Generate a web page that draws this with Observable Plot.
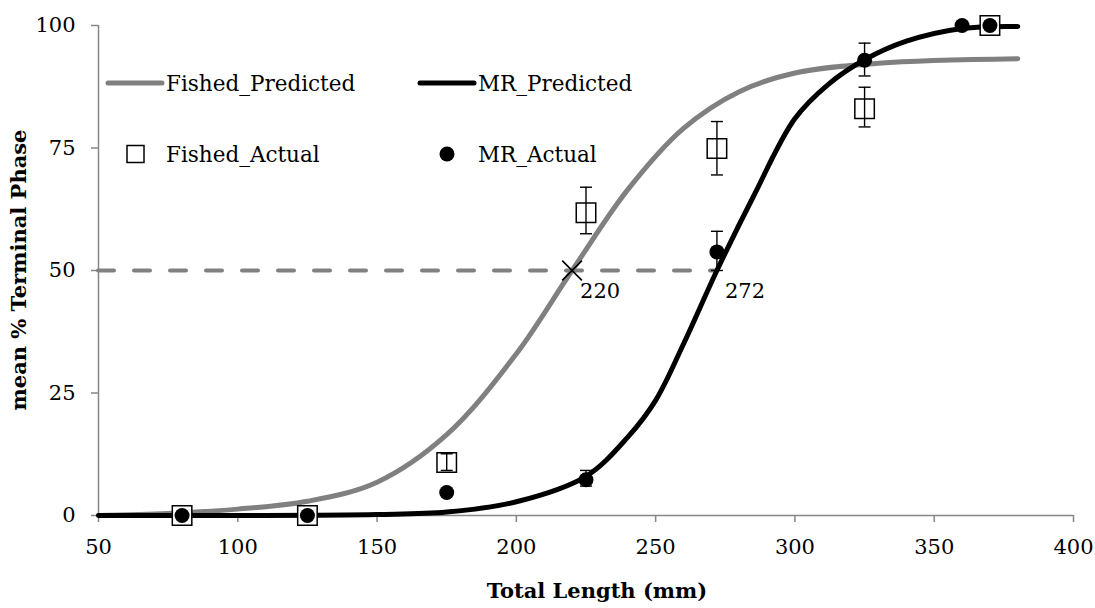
<!DOCTYPE html>
<html><head><meta charset="utf-8">
<script src="https://cdn.jsdelivr.net/npm/d3@7"></script>
<script src="https://cdn.jsdelivr.net/npm/@observablehq/plot@0.6"></script>
<style>
body{margin:0;background:#fff;}
#wrap{position:relative;width:1095px;height:608px;font-family:"DejaVu Serif",serif;overflow:hidden;}
#wrap > svg{position:absolute;left:0;top:0;}
.ttl{position:absolute;font-weight:bold;font-size:21px;color:#000;white-space:nowrap;line-height:1;}
svg [aria-label="x-axis"] line, svg [aria-label="y-axis"] line,
svg [aria-label$="axis tick"] path{stroke:#868686;stroke-width:1.5px;}
</style></head><body>
<div id="wrap"></div>
<script>
// ---------- data ----------
const xTicks = [50, 100, 150, 200, 250, 300, 350, 400];
const yTicks = [0, 25, 50, 75, 100];

const fishedPredX = [50, 75, 100, 125, 150, 175, 200, 220, 240, 260, 280, 300, 330, 380];
const fishedPredY = [0, 0.4, 1.3, 2.9, 6.8, 16.5, 33, 50, 66.5, 79, 86.5, 90.3, 92.3, 93.2];

const mrPredX = [50, 100, 150, 175, 200, 225, 240, 250, 260, 272, 285, 300, 312, 325, 340, 360, 380];
const mrPredY = [0, 0, 0.2, 0.7, 2.8, 8.0, 16, 23.5, 35, 50, 65, 81, 88, 93, 96.8, 99.4, 99.8];

const fishedActX  = [80, 125, 175, 225, 272, 325, 370];
const fishedActY  = [0, 0, 10.8, 61.8, 74.9, 83, 100];
const fishedActLo = [null, null, 9.2, 57.5, 69.5, 79.3, null];
const fishedActHi = [null, null, 12.6, 67, 80.4, 87.4, null];

const mrActX  = [80, 125, 175, 225, 272, 325, 360, 370];
const mrActY  = [0, 0, 4.7, 7.3, 53.8, 92.9, 100, 100];
const mrActLo = [null, null, null, 6, 50, 89.7, null, null];
const mrActHi = [null, null, null, 9.2, 58, 96.4, null, null];

const halfLevel = 50;
const l50Names = ["Fished", "MR"];
const l50X = [220, 272];
const l50Labels = ["220", "272"];

const seriesNames = ["Fished_Predicted", "MR_Predicted", "Fished_Actual", "MR_Actual"];
const xTitle = "Total Length (mm)";
const yTitle = "mean % Terminal Phase";

// ---------- tables ----------
const zip = (xs, ys) => xs.map((x, i) => ({x, y: ys[i]}));
const fishedPred = zip(fishedPredX, fishedPredY);
const mrPred = zip(mrPredX, mrPredY);
const fishedAct = fishedActX.map((x, i) => ({x, y: fishedActY[i], lo: fishedActLo[i], hi: fishedActHi[i]}));
const mrAct = mrActX.map((x, i) => ({x, y: mrActY[i], lo: mrActLo[i], hi: mrActHi[i]}));
const fishedErr = fishedAct.filter(d => d.lo != null);
const mrErr = mrAct.filter(d => d.lo != null);
const l50 = l50X.map((x, i) => ({name: l50Names[i], x, label: l50Labels[i], y: halfLevel}));
const dash = [{y: halfLevel, x1: xTicks[0], x2: d3.max(l50X)}];

const GRAY = "#808080";
const cap = {draw(ctx, size) { const w = Math.sqrt(size / Math.PI); ctx.moveTo(-w, 0); ctx.lineTo(w, 0); }};

const errMarks = (data) => [
  Plot.ruleX(data, {x: "x", y1: "lo", y2: "hi", stroke: "black", strokeWidth: 1.4}),
  Plot.dot(data, {x: "x", y: "lo", symbol: cap, r: 6, fill: "none", stroke: "black", strokeWidth: 1.4}),
  Plot.dot(data, {x: "x", y: "hi", symbol: cap, r: 6, fill: "none", stroke: "black", strokeWidth: 1.4})
];

const chart = Plot.plot({
  width: 1095, height: 608,
  marginLeft: 98, marginRight: 22, marginTop: 25, marginBottom: 93,
  style: {fontFamily: '"DejaVu Serif", serif', fontSize: "21px", background: "white", color: "black"},
  x: {domain: [50, 400], ticks: xTicks, tickSize: 7, tickPadding: 17, label: null, tickFormat: d => String(d)},
  y: {domain: [0, 100], ticks: yTicks, tickSize: 7, tickPadding: 16, label: null, tickFormat: d => String(d)},
  marks: [
    Plot.ruleY([0], {stroke: "#868686", strokeWidth: 1.5}),
    Plot.ruleX([50], {stroke: "#868686", strokeWidth: 1.5}),
    Plot.ruleY(dash, {y: "y", x1: "x1", x2: "x2", stroke: GRAY, strokeWidth: 4, strokeDasharray: "16,20", strokeLinecap: "round"}),
    Plot.line(fishedPred, {x: "x", y: "y", stroke: GRAY, strokeWidth: 5, curve: "catmull-rom", strokeLinecap: "round"}),
    Plot.line(mrPred, {x: "x", y: "y", stroke: "black", strokeWidth: 5, curve: "catmull-rom", strokeLinecap: "round"}),
    Plot.dot(fishedAct, {x: "x", y: "y", symbol: "square", r: 11, fill: "white", stroke: "black", strokeWidth: 1.5, ariaLabel: "shadowed"}),
    ...errMarks(fishedErr),
    Plot.dot(mrAct, {x: "x", y: "y", r: 7.5, fill: "black", stroke: "none", ariaLabel: "shadowed"}),
    ...errMarks(mrErr),
    Plot.dot(l50.filter(d => d.name === "Fished"), {x: "x", y: "y", symbol: "times", r: 9, stroke: "black", strokeWidth: 1.6, ariaLabel: "shadowed"}),
    Plot.text(l50, {x: "x", y: "y", text: "label", dx: 8, dy: 21, textAnchor: "start", fill: "black", fontSize: 21})
  ]
});

// drop shadow filter like the original markers
const svgSel = d3.select(chart);
const defs = svgSel.insert("defs", ":first-child");
const f = defs.append("filter").attr("id", "sh").attr("x", "-50%").attr("y", "-50%").attr("width", "200%").attr("height", "200%");
f.append("feDropShadow").attr("dx", 1.5).attr("dy", 2.5).attr("stdDeviation", 1.6).attr("flood-color", "#000").attr("flood-opacity", 0.45);
svgSel.selectAll('g[aria-label="shadowed"]').attr("filter", "url(#sh)");

const wrap = document.getElementById("wrap");
wrap.appendChild(chart);

// legend (inside plot area, top-left)
const leg = d3.select(wrap).append("svg").attr("width", 1095).attr("height", 608)
  .style("position", "absolute").style("left", 0).style("top", 0).style("pointer-events", "none")
  .style("font-family", '"DejaVu Serif", serif').style("font-size", "21.5px");
const legendItems = [
  {name: seriesNames[0], kind: "line", color: GRAY, x: 108, y: 83},
  {name: seriesNames[1], kind: "line", color: "black", x: 420, y: 83},
  {name: seriesNames[2], kind: "square", color: "black", x: 108, y: 154},
  {name: seriesNames[3], kind: "dot", color: "black", x: 420, y: 154}
];
for (const it of legendItems) {
  const g = leg.append("g").attr("transform", `translate(${it.x},${it.y})`);
  if (it.kind === "line") {
    g.append("line").attr("x1", 0).attr("x2", 54).attr("y1", 0).attr("y2", 0)
      .attr("stroke", it.color).attr("stroke-width", 5).attr("stroke-linecap", "round");
  } else if (it.kind === "square") {
    g.append("rect").attr("x", 19).attr("y", -8.5).attr("width", 17).attr("height", 17)
      .attr("fill", "white").attr("stroke", "black").attr("stroke-width", 1.5);
  } else {
    g.append("circle").attr("cx", 27).attr("cy", 0).attr("r", 7.5).attr("fill", "black");
  }
  g.append("text").attr("x", 58).attr("y", 0).attr("dy", "0.35em").attr("fill", "black").text(it.name);
}

// axis titles
const xt = document.createElement("div");
xt.className = "ttl"; xt.textContent = xTitle;
xt.style.left = "597px"; xt.style.top = "590px"; xt.style.transform = "translate(-50%,-50%)";
wrap.appendChild(xt);
const yt = document.createElement("div");
yt.className = "ttl"; yt.textContent = yTitle;
yt.style.left = "18px"; yt.style.top = "270px"; yt.style.transform = "translate(-50%,-50%) rotate(-90deg)";
wrap.appendChild(yt);
</script>
</body></html>
